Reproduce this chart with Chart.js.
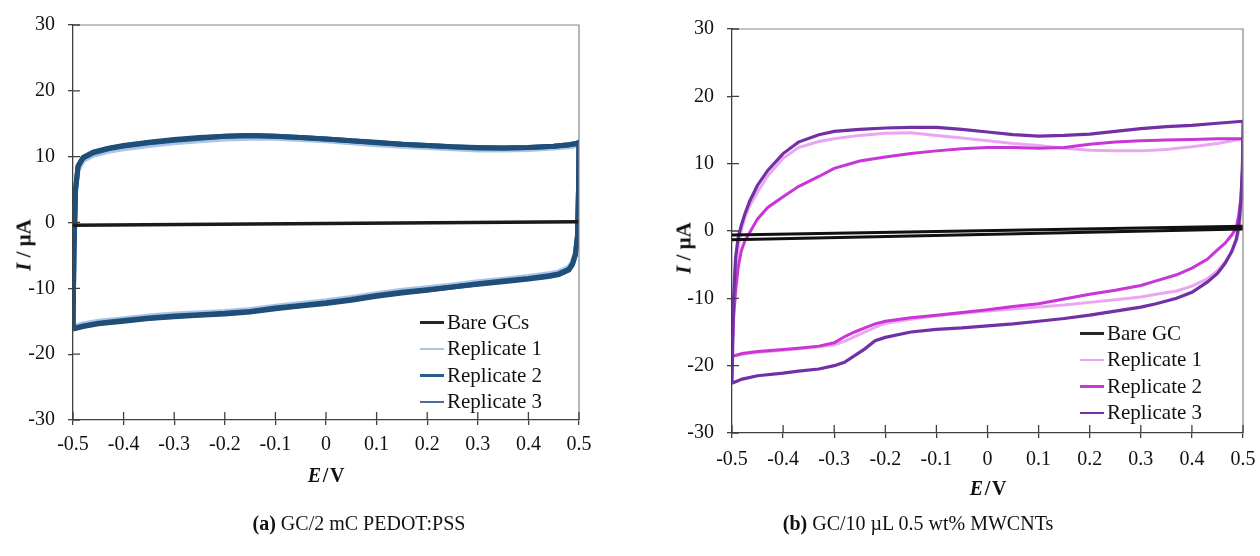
<!DOCTYPE html>
<html>
<head>
<meta charset="utf-8">
<script src="https://cdn.jsdelivr.net/npm/chart.js@4.4.1/dist/chart.umd.min.js"></script>
<style>
  body { margin: 0; background: #fff; }
  #page { position: relative; width: 1260px; height: 556px; overflow: hidden;
          font-family: "Liberation Serif", "Times New Roman", serif; color: #111; }
  canvas { position: absolute; }
  .ytitle { position: absolute; font-weight: bold; font-size: 21px; white-space: nowrap;
            transform: translate(-50%, -50%) rotate(-90deg); }
  .xtitle { position: absolute; font-weight: bold; font-size: 20px; white-space: nowrap;
            transform: translate(-50%, -50%); }
  .caption { position: absolute; font-size: 20px; white-space: nowrap; transform: translate(-50%, -50%); }
  .legend { position: absolute; font-size: 21px; }
  .legend .row { display: flex; align-items: center; height: 26.5px; }
  .legend .swatch { width: 24px; height: 2.5px; margin-right: 3px; }
</style>
</head>
<body>
<div id="page">
  <canvas id="cvA" width="620" height="470" style="left:0;top:0"></canvas>
  <canvas id="cvB" width="660" height="483" style="left:640px;top:0"></canvas>

  <div class="ytitle" style="left:24px;top:245px"><i>I</i> / µA</div>
  <div class="ytitle" style="left:684px;top:248px"><i>I</i> / µA</div>
  <div class="xtitle" style="left:326px;top:475px"><i>E</i>&#8202;/&#8202;V</div>
  <div class="xtitle" style="left:988px;top:488px"><i>E</i>&#8202;/&#8202;V</div>

  <div class="caption" style="left:359px;top:523px"><b>(a)</b> GC/2 mC PEDOT:PSS</div>
  <div class="caption" style="left:918px;top:523px"><b>(b)</b> GC/10 µL 0.5 wt% MWCNTs</div>

  <div class="legend" id="legA" style="left:420px;top:309px"></div>
  <div class="legend" id="legB" style="left:1080px;top:320px"></div>
</div>

<script>
// ---- (a) GC/2 mC PEDOT:PSS ----
// potential sweep: anodic branch then cathodic branch
const sweepA = [
  -0.5, -0.498, -0.495, -0.49, -0.48, -0.46, -0.43, -0.4, -0.35, -0.3, -0.25, -0.2, -0.15, -0.1,
  -0.05, 0, 0.05, 0.1, 0.15, 0.2, 0.25, 0.3, 0.35, 0.4, 0.45, 0.48, 0.495, 0.5,
  0.5, 0.499, 0.497, 0.493, 0.487, 0.48, 0.46, 0.44, 0.4, 0.35, 0.3, 0.25, 0.2, 0.15,
  0.1, 0.05, 0, -0.05, -0.1, -0.15, -0.2, -0.25, -0.3, -0.35, -0.4, -0.45, -0.48, -0.5
];
const pedotRep1 = [
  -15.8, -4, 4.5, 8.0, 9.4, 10.2, 10.8, 11.2, 11.7, 12.1, 12.4, 12.7, 12.8, 12.8,
  12.6, 12.4, 12.1, 11.8, 11.6, 11.4, 11.2, 11.0, 11.0, 11.1, 11.3, 11.5, 11.7, 11.8,
  11.8, 5, -2, -4.5, -6.0, -6.8, -7.5, -7.8, -8.2, -8.6, -9.0, -9.5, -9.9, -10.3,
  -10.8, -11.4, -11.9, -12.3, -12.7, -13.2, -13.5, -13.7, -13.9, -14.2, -14.6, -15.0, -15.4, -15.8
];
const pedotRep2 = [
  -16.2, -4, 5, 8.6, 9.9, 10.7, 11.3, 11.7, 12.2, 12.6, 12.9, 13.1, 13.2, 13.1,
  12.9, 12.7, 12.4, 12.2, 11.9, 11.7, 11.5, 11.4, 11.3, 11.4, 11.6, 11.8, 12.0, 12.2,
  12.2, 5, -2, -4.9, -6.4, -7.2, -7.9, -8.2, -8.6, -9.0, -9.4, -9.8, -10.3, -10.7,
  -11.2, -11.8, -12.3, -12.7, -13.1, -13.6, -13.9, -14.1, -14.3, -14.6, -15.0, -15.4, -15.8, -16.2
];
const pedotRep3 = [
  -16.1, -4, 5, 8.5, 9.8, 10.6, 11.2, 11.6, 12.1, 12.5, 12.8, 13.1, 13.2, 13.1,
  12.9, 12.7, 12.4, 12.1, 11.9, 11.7, 11.5, 11.3, 11.3, 11.4, 11.6, 11.8, 12.0, 12.1,
  12.1, 5, -2, -4.8, -6.3, -7.1, -7.8, -8.1, -8.5, -8.9, -9.3, -9.8, -10.2, -10.6,
  -11.1, -11.7, -12.2, -12.6, -13.0, -13.5, -13.8, -14.0, -14.2, -14.5, -14.9, -15.3, -15.7, -16.1
];
const bareSweepA = [-0.5, 0.5, 0.5, -0.5];
const bareGCsA = [-0.35, 0.2, 0.05, -0.5];

// ---- (b) GC/10 uL 0.5 wt% MWCNTs ----
const sweepB = [
  -0.5, -0.497, -0.493, -0.488, -0.482, -0.475, -0.465, -0.45, -0.43, -0.4, -0.37, -0.33, -0.3,
  -0.25, -0.2, -0.15, -0.1, -0.05, 0, 0.05, 0.1, 0.15, 0.2, 0.25, 0.3, 0.35, 0.4, 0.45, 0.5,
  0.5, 0.499, 0.496, 0.492, 0.487, 0.478, 0.465, 0.45, 0.43, 0.4, 0.37, 0.33, 0.3, 0.25, 0.2,
  0.15, 0.1, 0.05, 0, -0.05, -0.1, -0.15, -0.2, -0.22, -0.24, -0.26, -0.28, -0.3, -0.33, -0.37,
  -0.4, -0.45, -0.48, -0.5
];
const cntRep1 = [
  -18.6, -11, -6, -2.5, 0, 2, 3.8, 5.8, 8.2, 10.8, 12.4, 13.3, 13.7,
  14.2, 14.5, 14.6, 14.2, 13.8, 13.4, 13.0, 12.7, 12.3, 12.0, 11.9, 11.9, 12.1, 12.5, 13.0, 13.7,
  13.7, 8, 3, 0, -1.5, -3.2, -4.6, -5.9, -7.1, -8.2, -8.9, -9.4, -9.8, -10.2, -10.6,
  -11.0, -11.3, -11.6, -11.9, -12.2, -12.6, -13.1, -13.7, -14.3, -15.0, -15.7, -16.4, -16.9, -17.2, -17.5,
  -17.7, -18.0, -18.3, -18.6
];
const cntRep2 = [
  -18.6, -13, -9, -5.5, -3, -1.5, -0.2, 1.8, 3.5, 5.1, 6.6, 8.1, 9.3,
  10.4, 11.0, 11.5, 11.9, 12.2, 12.4, 12.4, 12.3, 12.4, 12.9, 13.2, 13.4, 13.5, 13.6, 13.7, 13.7,
  13.7, 9, 5, 2.5, 0.5, -0.6, -1.8, -2.8, -4.2, -5.5, -6.5, -7.4, -8.1, -8.8, -9.4,
  -10.1, -10.8, -11.2, -11.7, -12.1, -12.5, -12.9, -13.4, -13.8, -14.4, -15.0, -15.7, -16.6, -17.1, -17.4,
  -17.6, -17.9, -18.2, -18.6
];
const cntRep3 = [
  -22.6, -10, -4, -1, 0.8, 2.5, 4.5, 6.8, 9.0, 11.5, 13.2, 14.3, 14.8,
  15.1, 15.3, 15.4, 15.4, 15.1, 14.7, 14.3, 14.1, 14.2, 14.4, 14.8, 15.2, 15.5, 15.7, 16.0, 16.3,
  16.3, 10, 4.5, 1.0, -1.2, -3.0, -4.8, -6.3, -7.6, -9.1, -10.0, -10.8, -11.3, -11.9, -12.5,
  -13.0, -13.4, -13.8, -14.1, -14.4, -14.6, -15.0, -15.8, -16.3, -17.5, -18.5, -19.5, -20.0, -20.5, -20.8,
  -21.1, -21.5, -22.0, -22.6
];
const bareSweepB = [-0.5, 0.5, 0.5, -0.5];
const bareGCB = [-0.6, 0.7, 0.3, -1.3];

const xTickValues = [-0.5, -0.4, -0.3, -0.2, -0.1, 0, 0.1, 0.2, 0.3, 0.4, 0.5];
const yTickValues = [-30, -20, -10, 0, 10, 20, 30];

const seriesA = [
  { name: "Bare GCs",    e: bareSweepA, i: bareGCsA,  color: "#1a1a1a", width: 2.5, order: 0, key: "#262626" },
  { name: "Replicate 1", e: sweepA,     i: pedotRep1, color: "#a9c5ea", width: 5,   order: 3, key: "#a9c5ea" },
  { name: "Replicate 2", e: sweepA,     i: pedotRep2, color: "#1f4e79", width: 5,   order: 1, key: "#2a5b8a" },
  { name: "Replicate 3", e: sweepA,     i: pedotRep3, color: "#245380", width: 5,   order: 2, key: "#44709a" }
];
const seriesB = [
  { name: "Bare GC",     e: bareSweepB, i: bareGCB,  color: "#111111", width: 3,   order: 0, key: "#262626" },
  { name: "Replicate 1", e: sweepB,     i: cntRep1,  color: "#eba6f0", width: 3,   order: 3, key: "#eba6f0" },
  { name: "Replicate 2", e: sweepB,     i: cntRep2,  color: "#c935d6", width: 3,   order: 2, key: "#c935d6" },
  { name: "Replicate 3", e: sweepB,     i: cntRep3,  color: "#7230a6", width: 3.2, order: 1, key: "#7230a6" }
];

// plot frame (top/right) plus inward half of each tick mark
const frameTicks = {
  id: "frameTicks",
  afterDatasetsDraw(chart) {
    const { ctx, chartArea: a, scales } = chart;
    ctx.save();
    ctx.strokeStyle = "#858585";
    ctx.lineWidth = 1.2;
    ctx.beginPath();
    ctx.moveTo(a.left, a.top);
    ctx.lineTo(a.right, a.top);
    ctx.lineTo(a.right, a.bottom);
    ctx.stroke();
    ctx.strokeStyle = "#404040";
    ctx.lineWidth = 1.3;
    ctx.beginPath();
    scales.x.ticks.forEach(t => {
      const px = scales.x.getPixelForValue(t.value);
      ctx.moveTo(px, a.bottom);
      ctx.lineTo(px, a.bottom - 8);
    });
    scales.y.ticks.forEach(t => {
      const py = scales.y.getPixelForValue(t.value);
      ctx.moveTo(a.left, py);
      ctx.lineTo(a.left + 7, py);
    });
    ctx.stroke();
    ctx.restore();
  }
};

function makeChart(id, series, pad, yWidth, xPad) {
  const tickFont = { family: "Liberation Serif", size: 20 };
  return new Chart(document.getElementById(id), {
    type: "scatter",
    data: {
      datasets: series.map(s => ({
        label: s.name,
        data: s.e.map((e, k) => ({ x: e, y: s.i[k] })),
        showLine: true,
        borderColor: s.color,
        borderWidth: s.width,
        pointRadius: 0,
        tension: 0,
        order: s.order
      }))
    },
    options: {
      responsive: false,
      animation: false,
      layout: { padding: pad },
      plugins: { legend: { display: false }, tooltip: { enabled: false } },
      scales: {
        x: {
          type: "linear", min: -0.5, max: 0.5,
          afterBuildTicks: sc => { sc.ticks = xTickValues.map(v => ({ value: v })); },
          afterFit: sc => { sc.height = 50; },
          border: { display: true, color: "#404040", width: 1.3 },
          grid: { drawOnChartArea: false, drawTicks: true, tickLength: 5, color: "#404040", lineWidth: 1.3 },
          ticks: {
            font: tickFont, color: "#111", padding: xPad, maxRotation: 0, autoSkip: false,
            callback: v => (Math.round(v * 10) / 10).toString()
          }
        },
        y: {
          type: "linear", min: -30, max: 30,
          afterBuildTicks: sc => { sc.ticks = yTickValues.map(v => ({ value: v })); },
          afterFit: sc => { sc.width = yWidth; },
          border: { display: true, color: "#404040", width: 1.3 },
          grid: { drawOnChartArea: false, drawTicks: true, tickLength: 5, color: "#404040", lineWidth: 1.3 },
          ticks: { font: tickFont, color: "#111", padding: 13 }
        }
      }
    },
    plugins: [frameTicks]
  });
}

function makeLegend(id, series) {
  const box = document.getElementById(id);
  series.forEach(s => {
    const row = document.createElement("div");
    row.className = "row";
    const sw = document.createElement("span");
    sw.className = "swatch";
    sw.style.background = s.key;
    const txt = document.createElement("span");
    txt.textContent = s.name;
    row.appendChild(sw);
    row.appendChild(txt);
    box.appendChild(row);
  });
}

makeChart("cvA", seriesA, { top: 22, right: 41, left: 0, bottom: 0 }, 73, 8);
makeChart("cvB", seriesB, { top: 29, right: 57, left: 0, bottom: 0 }, 92, 10);
makeLegend("legA", seriesA);
makeLegend("legB", seriesB);
</script>
</body>
</html>
